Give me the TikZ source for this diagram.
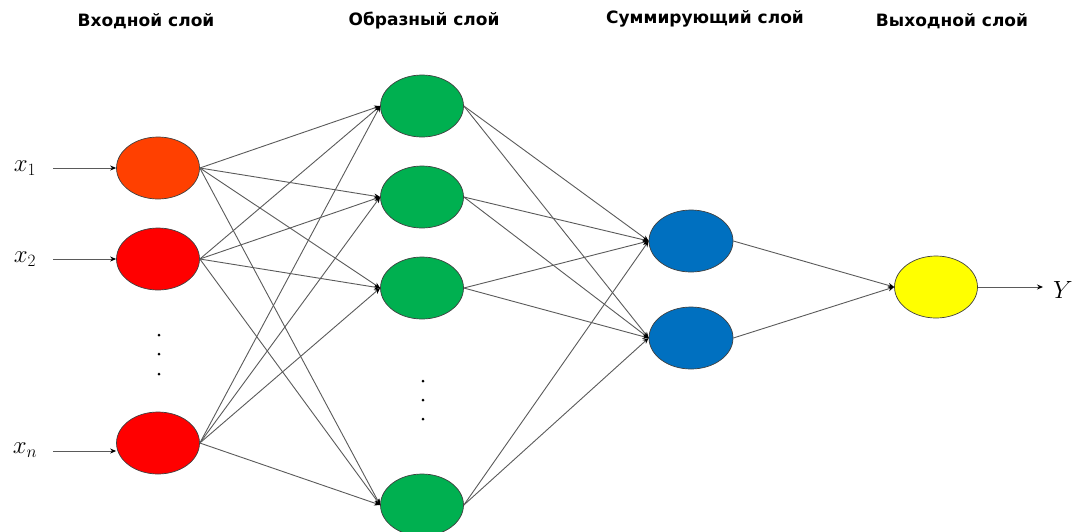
\documentclass[tikz,border=0pt]{standalone}
\usepackage{fontspec}
\newfontfamily\hdr{DejaVu Sans}
\usetikzlibrary{arrows.meta,shapes.geometric}
\definecolor{cOrange}{RGB}{255,64,0}
\definecolor{cRed}{RGB}{255,0,0}
\definecolor{cGreen}{RGB}{0,176,80}
\definecolor{cBlue}{RGB}{0,112,192}
\definecolor{cYellow}{RGB}{255,255,0}
\definecolor{cEdge}{RGB}{90,90,90}
\tikzset{
  neuron/.style={ellipse, minimum width=83pt, minimum height=62pt, inner sep=0pt, draw=black!75, line width=0.7pt},
  conn/.style={draw=cEdge, line width=0.9pt, -{Stealth[length=6pt,width=5pt,black]}},
  title/.style={font=\hdr\bfseries\fontsize{17}{20}\selectfont, anchor=center},
  var/.style={font=\fontsize{27}{30}\selectfont, anchor=center},
  dotmark/.style={circle, fill=black, inner sep=0pt, minimum size=3pt}
}
\begin{document}
\begin{tikzpicture}[x=1pt,y=-1pt]
\useasboundingbox (0,0) rectangle (1073,531);
\clip (0,0) rectangle (1073,531);
% titles
\node[title] (t1) at (146,21) {Входной слой};
\node[title] (t2) at (424,21) {Образный слой};
\node[title] (t3) at (705,19) {Суммирующий слой};
\node[title] (t4) at (952,21) {Выходной слой};
% input layer
\node[neuron, fill=cOrange] (i1) at (158,168) {};
\node[neuron, fill=cRed] (i2) at (158,259) {};
\node[neuron, fill=cRed] (in) at (158,443) {};
% pattern layer
\node[neuron, fill=cGreen] (p1) at (422,106) {};
\node[neuron, fill=cGreen] (p2) at (422,197) {};
\node[neuron, fill=cGreen] (p3) at (422,288) {};
\node[neuron, fill=cGreen] (pn) at (422,505) {};
% summation layer
\node[neuron, fill=cBlue, minimum width=84pt] (s1) at (691,241) {};
\node[neuron, fill=cBlue, minimum width=84pt] (s2) at (691,338) {};
% output layer
\node[neuron, fill=cYellow] (o) at (936,287) {};
% dots
\node[dotmark] (d1) at (159,335) {};
\node[dotmark] (d2) at (159,354) {};
\node[dotmark] (d3) at (159,374) {};
\node[dotmark] (e1) at (423,381) {};
\node[dotmark] (e2) at (423,400) {};
\node[dotmark] (e3) at (423,419) {};
% input labels
\node[var] (lx1) at (25,168) {$x_1$};
\node[var] (lx2) at (25,259) {$x_2$};
\node[var] (lxn) at (25,450) {$x_n$};
\node[var] (ly) at (1063,290) {$Y$};
\coordinate (a1) at (53,168);
\coordinate (a2) at (53,259);
\coordinate (an) at (53,451);
\coordinate (ay) at (1043,287);
\draw[conn] (a1) -- (i1.west);
\draw[conn] (a2) -- (i2.west);
\draw[conn] (an) -- ([yshift=-8pt]in.west);
\draw[conn] (o.east) -- (ay);
% input -> pattern
\foreach \a in {i1,i2,in}{
  \foreach \b in {p1,p2,p3,pn}{
    \draw[conn] (\a.east) -- (\b.west);
  }
}
% pattern -> summation
\foreach \a in {p1,p2,p3,pn}{
  \foreach \b in {s1,s2}{
    \draw[conn] (\a.east) -- (\b.west);
  }
}
% summation -> output
\draw[conn] (s1.east) -- (o.west);
\draw[conn] (s2.east) -- (o.west);
\end{tikzpicture}
\end{document}
